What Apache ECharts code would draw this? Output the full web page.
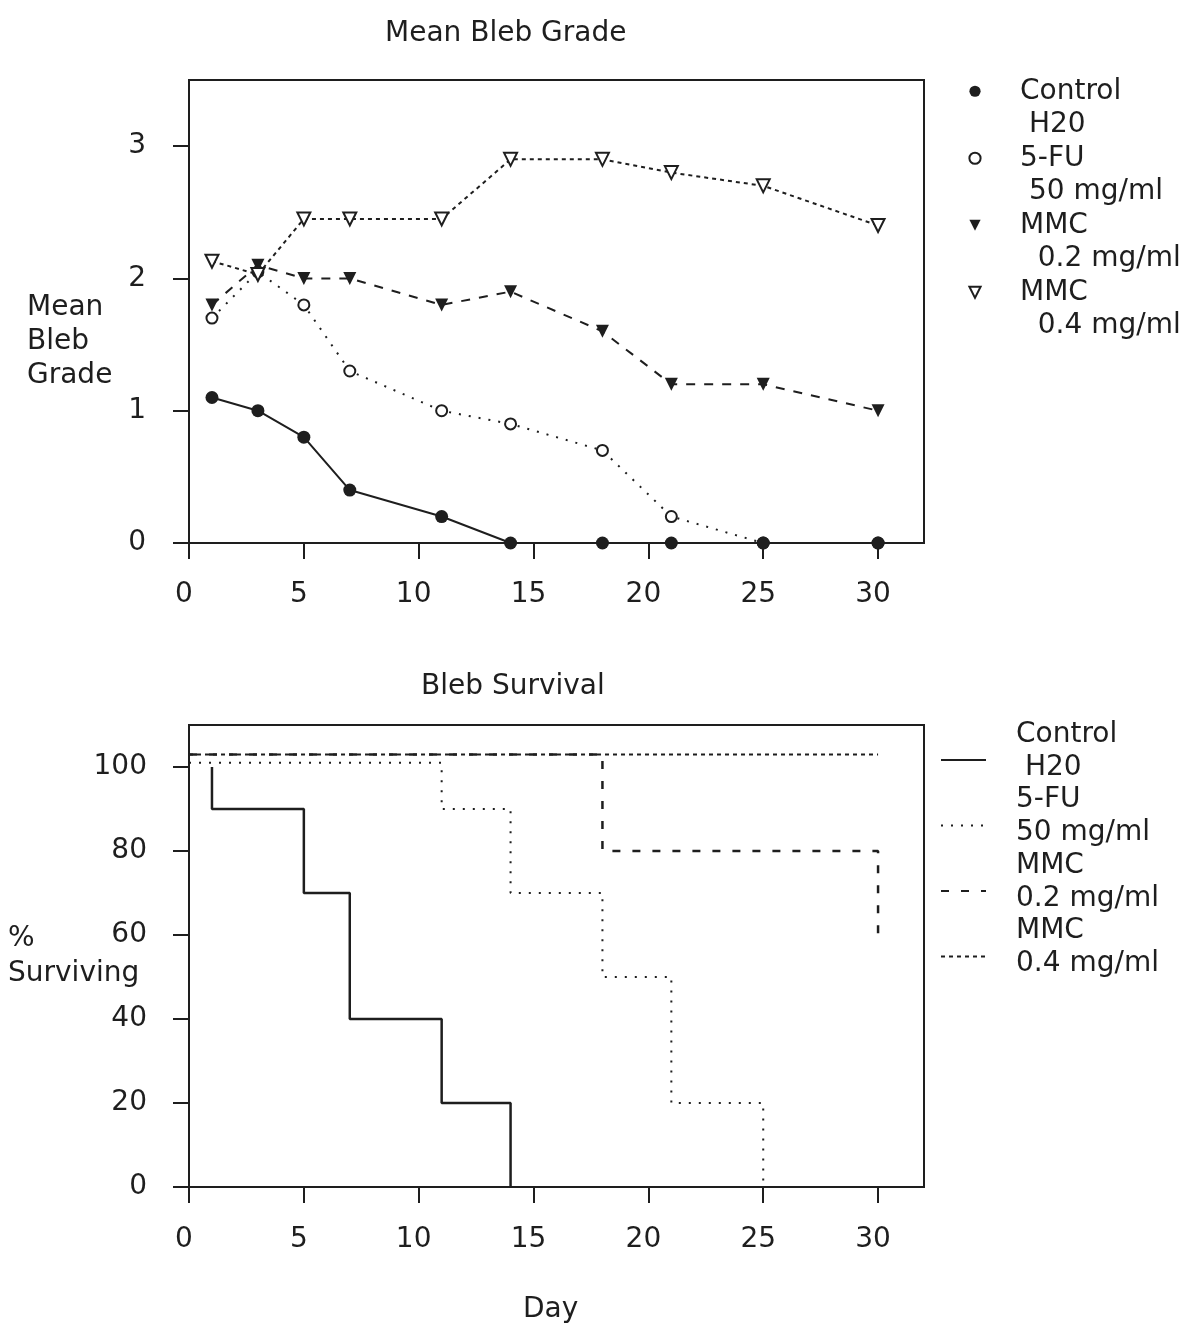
<!DOCTYPE html>
<html><head><meta charset="utf-8">
<script src="https://cdn.jsdelivr.net/npm/echarts@6/dist/echarts.min.js"></script>
<style>html,body{margin:0;padding:0;background:#fff}#c{width:1191px;height:1337px}</style>
</head><body><div id="c"></div>
<script>
// ---- Mean Bleb Grade (top chart) ----
const gradeDays   = [1, 3, 5, 7, 11, 14, 18, 21, 25, 30];
const gradeControl = [1.1, 1.0, 0.8, 0.4, 0.2, 0, 0, 0, 0, 0];
const grade5FU     = [1.7, 2.05, 1.8, 1.3, 1.0, 0.9, 0.7, 0.2, 0, 0];
const gradeMMC02   = [1.8, 2.1, 2.0, 2.0, 1.8, 1.9, 1.6, 1.2, 1.2, 1.0];
const gradeMMC04   = [2.13, 2.03, 2.45, 2.45, 2.45, 2.9, 2.9, 2.8, 2.7, 2.4];

// ---- Bleb Survival (bottom chart): start [day, %], then event days and % after each event ----
const survControlStart = [1, 100];
const survControlDays  = [1, 5, 7, 11, 14];
const survControl      = [90, 70, 40, 20, 0];
const surv5FUStart = [0, 101];
const surv5FUDays  = [11, 14, 18, 21, 25];
const surv5FU      = [90, 70, 50, 20, 0];
const survMMC02Start = [0, 103];
const survMMC02Days  = [18, 30];
const survMMC02      = [80, 60];
const survMMC04Start = [0, 103];
const survMMC04Days  = [30];
const survMMC04      = [103];

// ---- ticks and labels ----
const dayTicks   = [0, 5, 10, 15, 20, 25, 30];
const gradeTicks = [0, 1, 2, 3];
const survTicks  = [0, 20, 40, 60, 80, 100];
const gradeNames  = ['g0', 'g1', 'g2', 'g3'];
const gradeLabels = [['Control', ' H20'], ['5-FU', ' 50 mg/ml'], ['MMC', '  0.2 mg/ml'], ['MMC', '  0.4 mg/ml']];
const survNames   = ['s0', 's1', 's2', 's3'];
const survLabels  = [['Control', ' H20'], ['5-FU', '50 mg/ml'], ['MMC', '0.2 mg/ml'], ['MMC', '0.4 mg/ml']];

const FONT = 'DejaVu Sans';
const INK = '#1e1e1e';
const labelMap = {};
// top legend: an empty spacer line above so the symbol sits on the first text line
gradeNames.forEach((n, i) => labelMap[n] = '{e| }\n{a|' + gradeLabels[i][0] + '}\n{a|' + gradeLabels[i][1] + '}');
// bottom legend: a short spacer line below so the symbol sits near the second text line
survNames.forEach((n, i) => labelMap[n] = '{a|' + survLabels[i][0] + '}\n{a|' + survLabels[i][1] + '}\n{s| }');

const zip = (xs, ys) => xs.map((x, i) => [x, ys[i]]);
const stepData = (start, days, vals) => [start].concat(zip(days, vals));

function xAx(gi, margin) {
  return {
    type: 'value', gridIndex: gi, min: 0, max: 32, interval: 5,
    axisLine: { show: true, onZero: false, lineStyle: { color: INK, width: 2 } },
    axisTick: { show: true, length: 16, customValues: dayTicks, lineStyle: { color: INK, width: 2 } },
    axisLabel: { customValues: dayTicks, margin: margin, fontSize: 28, fontFamily: FONT, color: INK, padding: [0, 10, 0, 0] },
    splitLine: { show: false }
  };
}
function yAx(gi, max, ticks, margin) {
  return {
    type: 'value', gridIndex: gi, min: 0, max: max,
    axisLine: { show: true, onZero: false, lineStyle: { color: INK, width: 2 } },
    axisTick: { show: true, length: 16, customValues: ticks, lineStyle: { color: INK, width: 2 } },
    axisLabel: { customValues: ticks, margin: margin, fontSize: 28, fontFamily: FONT, color: INK },
    splitLine: { show: false }
  };
}
const titleStyle = { fontFamily: FONT, fontSize: 28, fontWeight: 'normal', color: INK };
const legendRich = (lh, sp) => ({
  a: { fontFamily: FONT, fontSize: 28, color: INK, lineHeight: lh },
  e: { fontSize: 8, lineHeight: lh },
  s: { fontSize: 8, lineHeight: sp }
});

const option = {
  animation: false,
  backgroundColor: '#fff',
  textStyle: { fontFamily: FONT },
  title: [
    { text: 'Mean Bleb Grade', left: 385, top: 20, padding: 0, textStyle: titleStyle },
    { text: 'Bleb Survival', left: 421, top: 673, padding: 0, textStyle: titleStyle },
    { text: 'Mean\nBleb\nGrade', left: 27, top: 291, padding: 0, textStyle: Object.assign({ lineHeight: 34 }, titleStyle) },
    { text: '%\nSurviving', left: 8, top: 921, padding: 0, textStyle: Object.assign({ lineHeight: 35 }, titleStyle) },
    { text: 'Day', left: 523, top: 1296, padding: 0, textStyle: titleStyle }
  ],
  grid: [
    { left: 189, top: 80, width: 735, height: 463, show: true, borderColor: INK, borderWidth: 2, backgroundColor: 'transparent' },
    { left: 189, top: 725, width: 735, height: 462, show: true, borderColor: INK, borderWidth: 2, backgroundColor: 'transparent' }
  ],
  xAxis: [xAx(0, 38), xAx(1, 39)],
  yAxis: [yAx(0, 3.5, gradeTicks, 43), yAx(1, 110, survTicks, 42)],
  legend: [
    {
      data: gradeNames, orient: 'vertical', left: 968, top: 41, padding: 0,
      itemWidth: 14, itemHeight: 14, itemGap: -33.5, selectedMode: false,
      formatter: n => labelMap[n],
      lineStyle: { width: 0, color: 'rgba(0,0,0,0)' },
      textStyle: { fontFamily: FONT, fontSize: 28, color: INK, lineHeight: 33.5, padding: [0, 0, 0, 33], rich: legendRich(33.5, 18) }
    },
    {
      data: survNames, orient: 'vertical', left: 940, top: 718, padding: 0,
      itemWidth: 45, itemHeight: 14, itemGap: -18.5, selectedMode: false,
      formatter: n => labelMap[n],
      itemStyle: { opacity: 0 },
      textStyle: { fontFamily: FONT, fontSize: 28, color: INK, lineHeight: 33, padding: [0, 0, 0, 25], rich: legendRich(33, 18) }
    }
  ],
  series: [
    { name: 'g1', type: 'line', xAxisIndex: 0, yAxisIndex: 0, data: zip(gradeDays, grade5FU),
      symbol: 'emptyCircle', symbolSize: 11, itemStyle: { color: INK, borderWidth: 2.2 },
      lineStyle: { color: INK, width: 2, type: [2, 8] }, z: 2 },
    { name: 'g2', type: 'line', xAxisIndex: 0, yAxisIndex: 0, data: zip(gradeDays, gradeMMC02),
      symbol: 'triangle', symbolRotate: 180, symbolSize: 13, itemStyle: { color: INK },
      lineStyle: { color: INK, width: 2, type: [9, 9] }, z: 3 },
    { name: 'g3', type: 'line', xAxisIndex: 0, yAxisIndex: 0, data: zip(gradeDays, gradeMMC04),
      symbol: 'emptyTriangle', symbolRotate: 180, symbolSize: 13, itemStyle: { color: INK, borderWidth: 1.6 },
      lineStyle: { color: INK, width: 2, type: [4, 4] }, z: 3 },
    { name: 'g0', type: 'line', xAxisIndex: 0, yAxisIndex: 0, data: zip(gradeDays, gradeControl),
      symbol: 'circle', symbolSize: 13, itemStyle: { color: INK },
      lineStyle: { color: INK, width: 2 }, z: 5 },

    { name: 's0', type: 'line', xAxisIndex: 1, yAxisIndex: 1, step: 'end', symbol: 'none',
      data: stepData(survControlStart, survControlDays, survControl),
      itemStyle: { color: INK }, lineStyle: { color: INK, width: 2.5 } },
    { name: 's1', type: 'line', xAxisIndex: 1, yAxisIndex: 1, step: 'end', symbol: 'none',
      data: stepData(surv5FUStart, surv5FUDays, surv5FU),
      itemStyle: { color: INK }, lineStyle: { color: INK, width: 2, type: [2, 8] } },
    { name: 's2', type: 'line', xAxisIndex: 1, yAxisIndex: 1, step: 'end', symbol: 'none',
      data: stepData(survMMC02Start, survMMC02Days, survMMC02),
      itemStyle: { color: INK }, lineStyle: { color: INK, width: 2.5, type: [8, 12] } },
    { name: 's3', type: 'line', xAxisIndex: 1, yAxisIndex: 1, step: 'end', symbol: 'none',
      data: stepData(survMMC04Start, survMMC04Days, survMMC04),
      itemStyle: { color: INK }, lineStyle: { color: INK, width: 2, type: [4, 4] } }
  ]
};
const chart = echarts.init(document.getElementById('c'), null, { renderer: 'canvas' });
chart.setOption(option);
</script>
</body></html>
